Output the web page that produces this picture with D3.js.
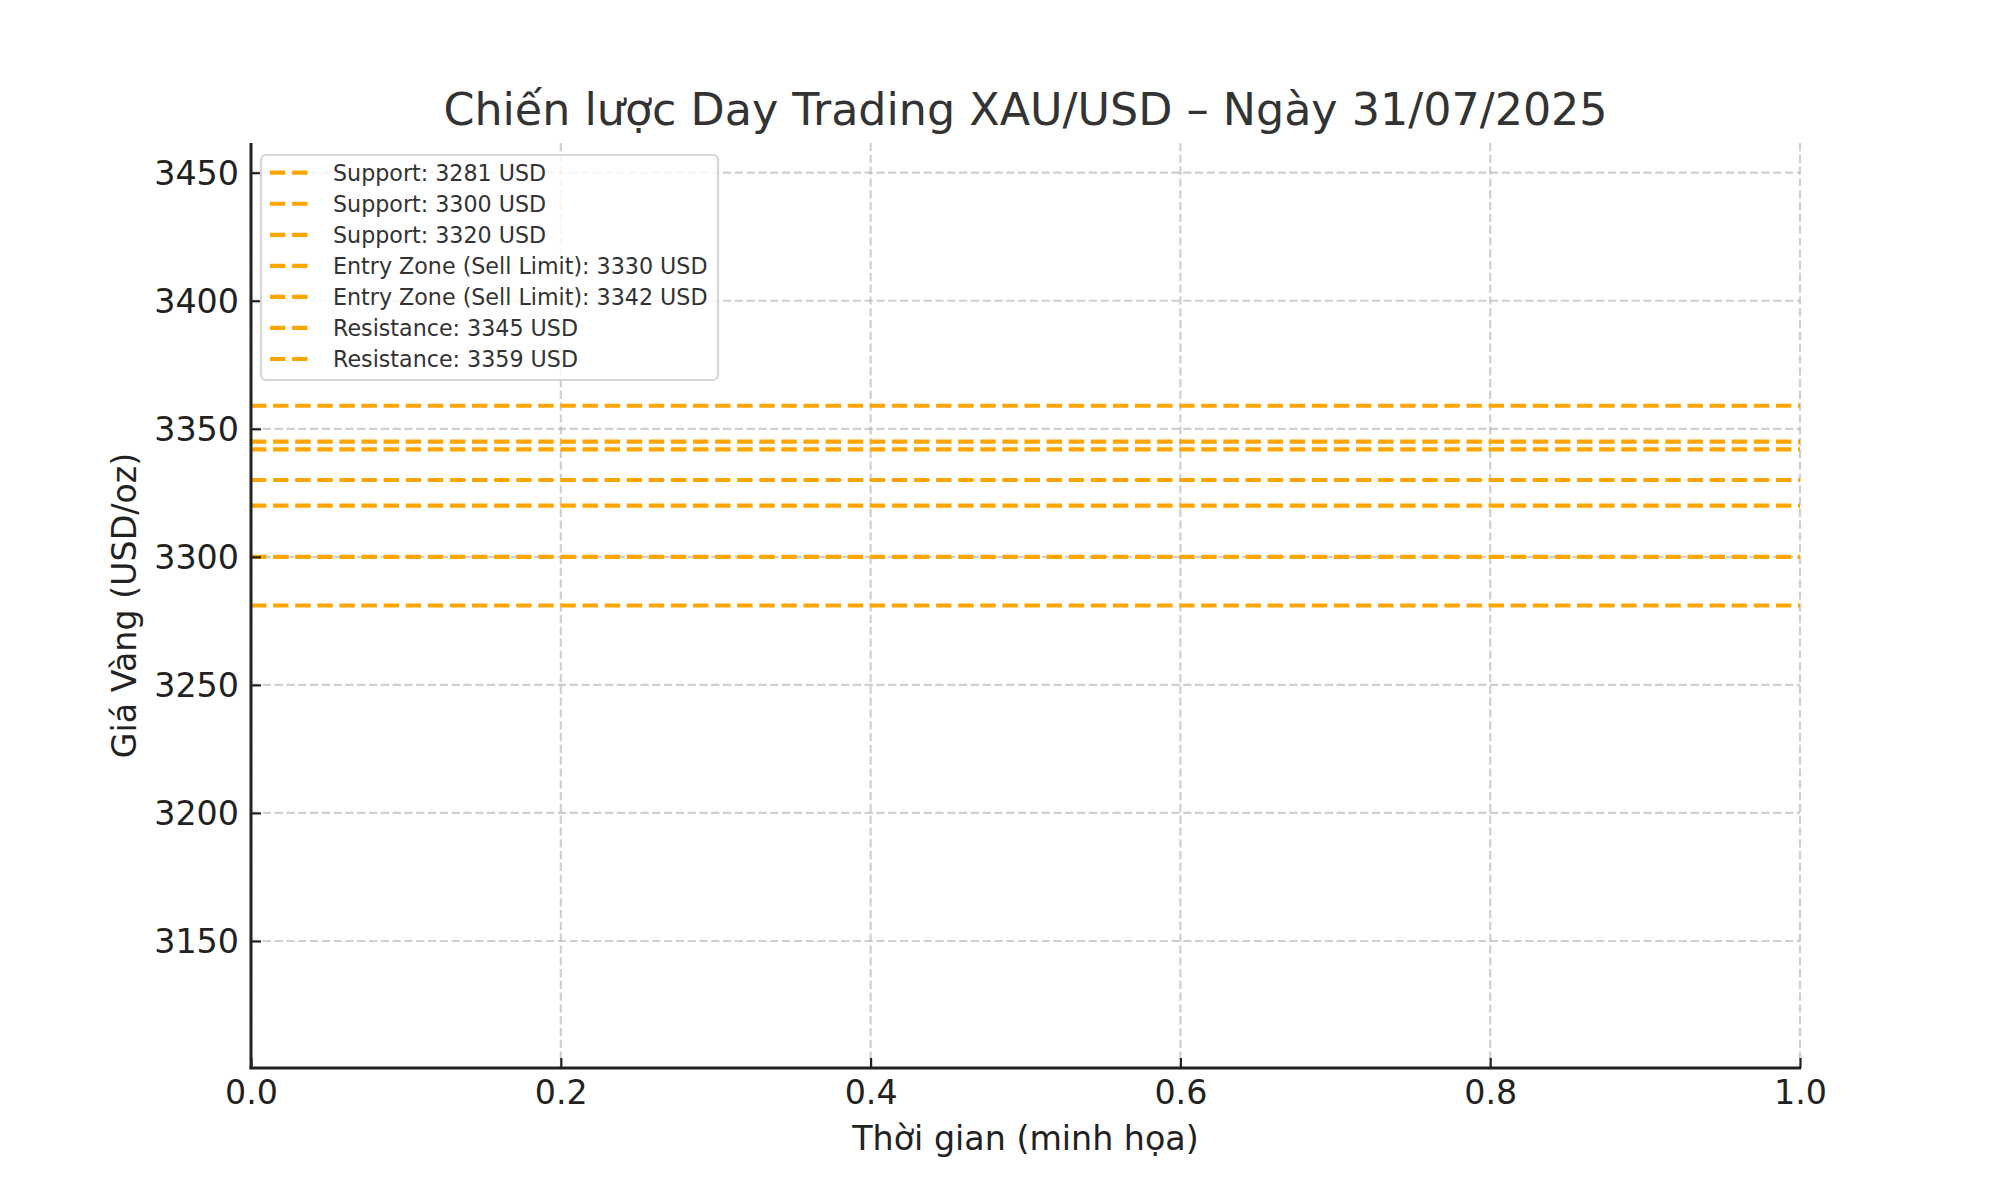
<!DOCTYPE html>
<html>
<head>
<meta charset="utf-8">
<script src="https://cdn.jsdelivr.net/npm/d3@7"></script>
<style>
  html, body { margin: 0; padding: 0; background: #fff; }
  svg { display: block; }
  text { font-family: "DejaVu Sans", sans-serif; }
</style>
</head>
<body>
<svg id="chart" width="2000" height="1200"></svg>
<script>
// ---- data ----
const levelLabels = [
  "Support: 3281 USD",
  "Support: 3300 USD",
  "Support: 3320 USD",
  "Entry Zone (Sell Limit): 3330 USD",
  "Entry Zone (Sell Limit): 3342 USD",
  "Resistance: 3345 USD",
  "Resistance: 3359 USD"
];
const levelValues = [3281, 3300, 3320, 3330, 3342, 3345, 3359];
const yTicks = [3150, 3200, 3250, 3300, 3350, 3400, 3450];
const xTicks = [0.0, 0.2, 0.4, 0.6, 0.8, 1.0];
const yDomain = [3100.4, 3461.6];
const xDomain = [0, 1];
const title = "Chiến lược Day Trading XAU/USD – Ngày 31/07/2025";
const xLabel = "Thời gian (minh họa)";
const yLabel = "Giá Vàng (USD/oz)";

// ---- layout ----
const L = 251, R = 1800, T = 143, B = 1068;
const lineColor = "#FFA500";
const svg = d3.select("#chart");
const x = d3.scaleLinear().domain(xDomain).range([L, R]);
const y = d3.scaleLinear().domain(yDomain).range([B, T]);

// grid
const grid = svg.append("g");
grid.selectAll("line.gx").data(xTicks).join("line")
  .attr("x1", d => x(d)).attr("x2", d => x(d))
  .attr("y1", T).attr("y2", B)
  .attr("stroke", "#b0b0b0").attr("stroke-opacity", 0.6)
  .attr("stroke-width", 2.2).attr("stroke-dasharray", "8.2,3.6");
grid.selectAll("line.gy").data(yTicks).join("line")
  .attr("x1", L).attr("x2", R)
  .attr("y1", d => y(d)).attr("y2", d => y(d))
  .attr("stroke", "#b0b0b0").attr("stroke-opacity", 0.6)
  .attr("stroke-width", 2.2).attr("stroke-dasharray", "8.2,3.6");

// level lines
svg.append("g").selectAll("line").data(levelValues).join("line")
  .attr("x1", L).attr("x2", R)
  .attr("y1", d => y(d)).attr("y2", d => y(d))
  .attr("stroke", lineColor).attr("stroke-width", 4.2)
  .attr("stroke-dasharray", "15.4,6.7");

// axes
const xAxis = d3.axisBottom(x).tickValues(xTicks).tickFormat(d3.format(".1f"))
  .tickSizeInner(-10).tickSizeOuter(0).tickPadding(12);
const gx = svg.append("g").attr("transform", `translate(0,${B})`).call(xAxis);
const yAxis = d3.axisLeft(y).tickValues(yTicks).tickFormat(d3.format("d"))
  .tickSizeInner(-10).tickSizeOuter(0).tickPadding(12);
const gy = svg.append("g").attr("transform", `translate(${L},0)`).call(yAxis);

[gx, gy].forEach(g => {
  g.select(".domain").remove();
  g.selectAll(".tick line").attr("stroke", "#222").attr("stroke-width", 2.2);
  g.selectAll(".tick text").attr("fill", "#222")
    .style("font-family", "DejaVu Sans").style("font-size", "33.3px");
});
gy.selectAll(".tick text").attr("dy", "0.35em");

// spines
svg.append("line").attr("x1", L).attr("x2", L).attr("y1", T).attr("y2", B + 1.1)
  .attr("stroke", "#222").attr("stroke-width", 3);
svg.append("line").attr("x1", L - 1.5).attr("x2", R + 1).attr("y1", B).attr("y2", B)
  .attr("stroke", "#222").attr("stroke-width", 3);

// title and labels
svg.append("text").attr("x", (L + R) / 2).attr("y", 125)
  .attr("text-anchor", "middle").attr("fill", "#333")
  .style("font-size", "44.4px").text(title);
svg.append("text").attr("x", (L + R) / 2).attr("y", 1150)
  .attr("text-anchor", "middle").attr("fill", "#222")
  .style("font-size", "33.3px").text(xLabel);
svg.append("text").attr("transform", `translate(136,${(T + B) / 2}) rotate(-90)`)
  .attr("text-anchor", "middle").attr("fill", "#222")
  .style("font-size", "33.3px").text(yLabel);

// legend
const lg = svg.append("g");
lg.append("rect").attr("x", 261).attr("y", 155).attr("width", 457).attr("height", 225)
  .attr("rx", 5).attr("fill", "#fff").attr("fill-opacity", 0.8)
  .attr("stroke", "#d6d6d6").attr("stroke-width", 2.2);
const rowY = i => 172.7 + i * 31.05;
const rows = lg.selectAll("g.row").data(levelLabels).join("g")
  .attr("transform", (d, i) => `translate(0,${rowY(i)})`);
rows.append("line").attr("x1", 270).attr("x2", 308)
  .attr("stroke", lineColor).attr("stroke-width", 4.2)
  .attr("stroke-dasharray", "15.4,6.7");
rows.append("text").attr("x", 333).attr("dy", "0.36em")
  .attr("fill", "#333").style("font-size", "22.2px").text(d => d);
</script>
</body>
</html>
